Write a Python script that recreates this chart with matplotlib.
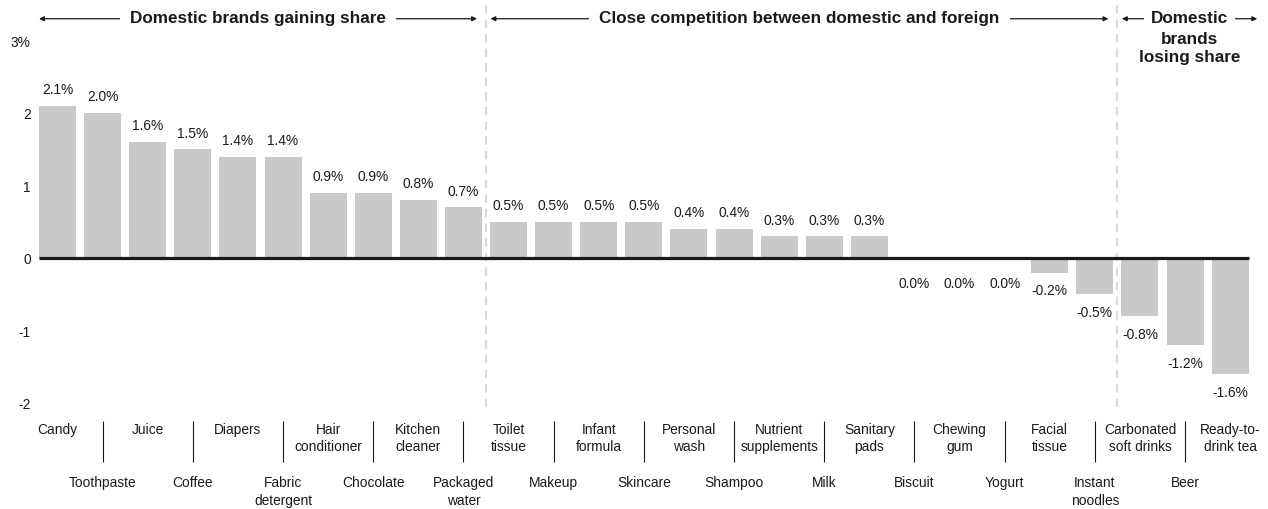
import matplotlib
matplotlib.use("Agg")
import matplotlib.pyplot as plt
import numpy as np

plt.rcParams['font.family'] = ['Liberation Sans', 'DejaVu Sans']

categories = ["Candy", "Toothpaste", "Juice", "Coffee", "Diapers", "Fabric\ndetergent",
              "Hair\nconditioner", "Chocolate", "Kitchen\ncleaner", "Packaged\nwater",
              "Toilet\ntissue", "Makeup", "Infant\nformula", "Skincare", "Personal\nwash",
              "Shampoo", "Nutrient\nsupplements", "Milk", "Sanitary\npads", "Biscuit",
              "Chewing\ngum", "Yogurt", "Facial\ntissue", "Instant\nnoodles",
              "Carbonated\nsoft drinks", "Beer", "Ready-to-\ndrink tea"]
share_change = [2.1, 2.0, 1.6, 1.5, 1.4, 1.4, 0.9, 0.9, 0.8, 0.7,
                0.5, 0.5, 0.5, 0.5, 0.4, 0.4, 0.3, 0.3, 0.3, 0.0,
                0.0, 0.0, -0.2, -0.5, -0.8, -1.2, -1.6]

# groups: (title, first index, last index)
sections = [("Domestic brands gaining share", 0, 9),
            ("Close competition between domestic and foreign", 10, 23),
            ("Domestic", 24, 26)]
last_subtitle = "brands\nlosing share"

y_ticks = [-2, -1, 0, 1, 2, 3]

BAR = "#c9c9c9"
INK = "#1a1a1a"
W = 0.82
FS = 9.9

fig = plt.figure(figsize=(12.68, 5.10), dpi=100)
ax = fig.add_axes([35 / 1268, 106 / 510, 1217.7 / 1268, 362.5 / 510])

x = np.arange(len(categories))
ax.bar(x, share_change, width=W, color=BAR, zorder=2)
ax.hlines(0, x[0] - W / 2, x[-1] + W / 2, color=INK, lw=2.3, zorder=3)

for xi, v in zip(x, share_change):
    txt = f"{v:.1f}%"
    if v > 0:
        ax.annotate(txt, (xi, v), xytext=(0, 7), textcoords="offset points",
                    ha="center", va="bottom", fontsize=FS, color=INK)
    else:
        off = -7.6 if v < 0 else -13.3
        ax.annotate(txt, (xi, v), xytext=(0, off), textcoords="offset points",
                    ha="center", va="top", fontsize=FS, color=INK)

ax.set_xlim(-0.5, len(categories) - 0.5)
ax.set_ylim(-2, 3)
ax.set_yticks(y_ticks)
ax.set_yticklabels([f"{t}%" if t == y_ticks[-1] else str(t) for t in y_ticks])
ax.tick_params(axis="y", length=0, pad=3, labelsize=FS, labelcolor=INK)

# alternate the category names on two rows
ax.set_xticks(x[::2], [categories[i] for i in x[::2]])
ax.set_xticks(x[1::2], [categories[i] for i in x[1::2]], minor=True)
ax.tick_params(axis="x", which="major", length=0, pad=13.5, labelsize=FS, labelcolor=INK)
ax.tick_params(axis="x", which="minor", length=0, pad=52, labelsize=FS, labelcolor=INK)
for lab in ax.get_xticklabels() + ax.get_xticklabels(minor=True):
    lab.set_linespacing(1.3)

for s in ax.spines.values():
    s.set_visible(False)

trans = ax.get_xaxis_transform()
ax.vlines(x[1::2], -0.05, -0.163, transform=trans, color=INK, lw=0.8, clip_on=False)

# section dividers and headers
y_head = 1.06
for k, (title, i0, i1) in enumerate(sections):
    if k > 0:
        ax.axvline(i0 - 0.5, ymin=-0.011, ymax=1.109, color="#d9d9d9", lw=1.5,
                   ls=(0, (4, 3)), clip_on=False, zorder=1)
    left = i0 - 0.4 if k > 0 else i0 - W / 2
    right = i1 + 0.3 if k < len(sections) - 1 else i1 + 0.6
    ax.annotate("", xy=(right, y_head), xytext=(left, y_head), xycoords=trans,
                textcoords=trans, annotation_clip=False,
                arrowprops=dict(arrowstyle="<|-|>", color=INK, lw=0.9,
                                mutation_scale=7, shrinkA=0, shrinkB=0))
    pad = 0.6 if k < len(sections) - 1 else 0.4
    ax.text((left + right) / 2, y_head + 0.004, title, transform=trans, ha="center",
            va="center", fontsize=12.3, fontweight="bold", color=INK, zorder=5,
            bbox=dict(boxstyle=f"square,pad={pad}", fc="white", ec="none"))
    if k == len(sections) - 1:
        ax.text((left + right) / 2, 1.027, last_subtitle, transform=trans,
                ha="center", va="top", fontsize=12.3, fontweight="bold",
                color=INK, linespacing=1.3, zorder=6)

fig.savefig("out.png", dpi=100)
